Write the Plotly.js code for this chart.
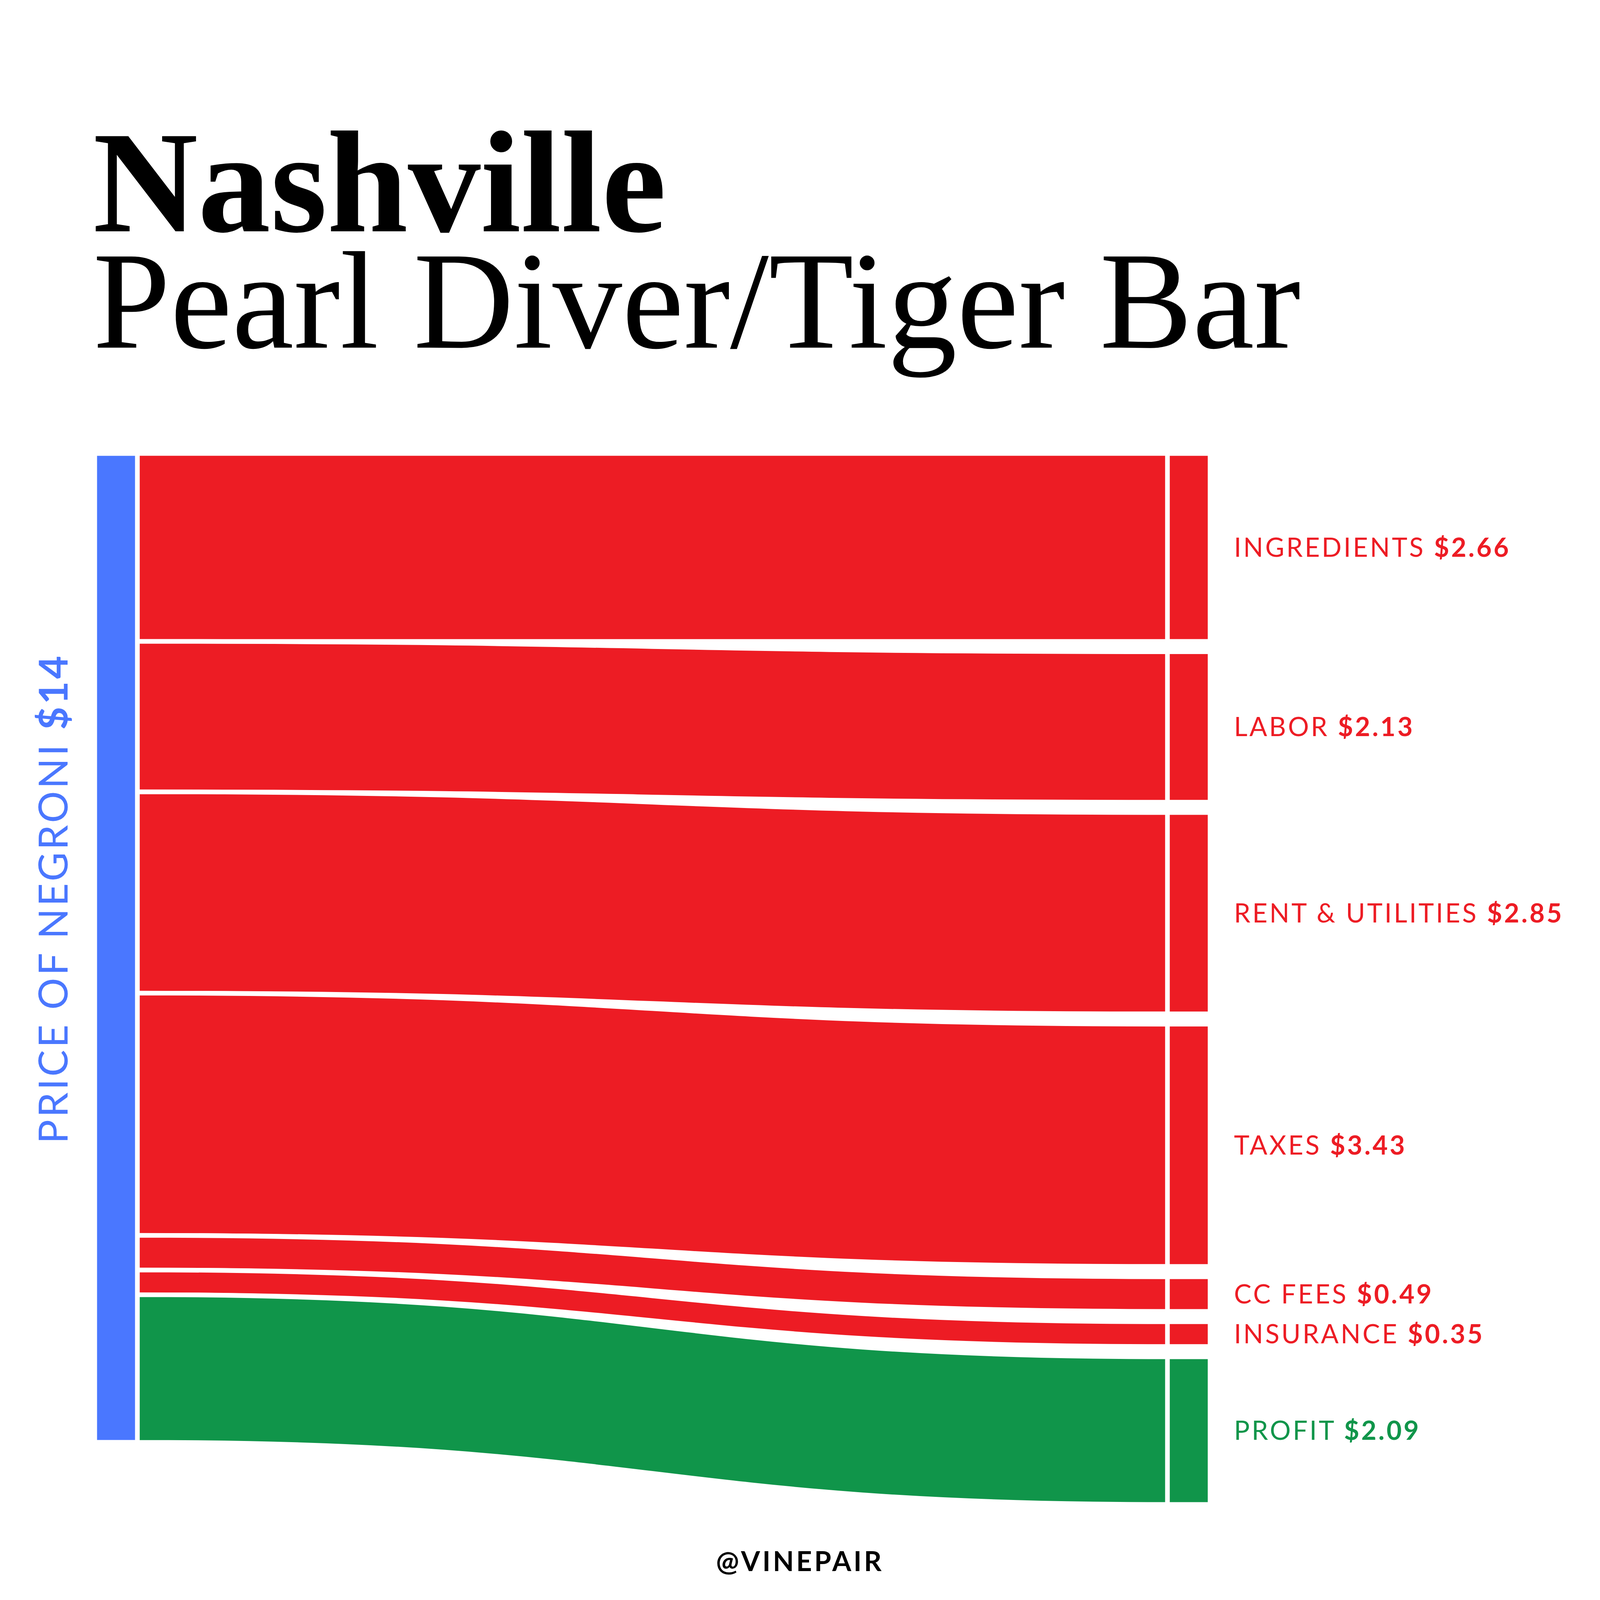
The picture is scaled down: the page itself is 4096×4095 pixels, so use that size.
<!DOCTYPE html>
<html>
<head>
<meta charset="utf-8">
<script src="https://cdn.plot.ly/plotly-3.0.1.min.js"></script>
<style>
html, body { margin: 0; padding: 0; background: #ffffff; }
#chart { width: 4096px; height: 4095px; }
</style>
</head>
<body>
<div id="chart"></div>
<script>
// ---------------- data ----------------
const sourceLabel = 'PRICE OF NEGRONI';
const price = 14;
const categories = ['INGREDIENTS', 'LABOR', 'RENT & UTILITIES', 'TAXES', 'CC FEES', 'INSURANCE', 'PROFIT'];
const values = [2.66, 2.13, 2.85, 3.43, 0.49, 0.35, 2.09];
const categoryColors = ['#ed1c24', '#ed1c24', '#ed1c24', '#ed1c24', '#ed1c24', '#ed1c24', '#10954a'];
const sourceColor = '#4a77ff';
const titleLine1 = 'Nashville';
const titleLine2 = 'Pearl Diver/Tiger Bar';
const footer = '@VINEPAIR';

// ---------------- geometry (reference px * scale) ----------------
const W = 4096, H = 4095, S = 0.982;
const nodeThickness = 111 * S;
const nodePad = 27 * S;
const strokeW = 12 * S;
const sankeyTop = 1182 * S;
const sankeyBottom = 3921 * S;
const leftCenterX = 302.5 * S;
const rightCenterX = 3099 * S;
const CLEAR = 'rgba(0,0,0,0)';

const Hs = sankeyBottom - sankeyTop;
const total = values.reduce((a, b) => a + b, 0);
const ky = (Hs - (values.length - 1) * nodePad) / total;
const n = values.length;

// node positions (normalized centres), derived from the values
const nodeX = [leftCenterX / W];
const nodeY = [(total * ky / 2) / Hs];
let cursor = 0;
values.forEach(v => {
  const h = v * ky;
  nodeX.push(rightCenterX / W);
  nodeY.push((cursor + h / 2) / Hs);
  cursor += h + nodePad;
});
// invisible sink column (keeps the category labels on the right of their bars)
nodeX.push(0.999);
nodeY.push((total * ky / 2) / Hs);

const lead = '   ';
const nodeLabels = [''].concat(categories.map((c, i) =>
  lead + '<span style="color:' + categoryColors[i] + ';letter-spacing:5px">' + c +
  ' <b>$' + values[i].toFixed(2) + '</b></span>'
)).concat(['']);
const nodeColors = [sourceColor].concat(categoryColors).concat([CLEAR]);

const linkSource = values.map(() => 0).concat(values.map((v, i) => i + 1));
const linkTarget = values.map((v, i) => i + 1).concat(values.map(() => n + 1));
const linkValue = values.concat(values);
const linkColor = categoryColors.concat(values.map(() => CLEAR));

const trace = {
  type: 'sankey',
  arrangement: 'fixed',
  orientation: 'h',
  domain: { x: [0, 1], y: [1 - sankeyBottom / H, 1 - sankeyTop / H] },
  hoverinfo: 'none',
  textfont: { family: 'Lato', size: 67, color: '#ed1c24', shadow: 'none' },
  node: {
    label: nodeLabels,
    color: nodeColors,
    x: nodeX,
    y: nodeY,
    thickness: nodeThickness,
    pad: nodePad,
    line: { color: '#ffffff', width: strokeW },
    hoverinfo: 'none'
  },
  link: {
    source: linkSource,
    target: linkTarget,
    value: linkValue,
    color: linkColor,
    line: { color: '#ffffff', width: strokeW },
    hoverinfo: 'none'
  }
};

const layout = {
  width: W,
  height: H,
  margin: { l: 0, r: 0, t: 0, b: 0 },
  paper_bgcolor: '#ffffff',
  showlegend: false,
  annotations: [
    {
      text: '<span style="font-size:372px"><b>' + titleLine1 + '</b></span><br>' +
            '<span style="font-size:356px">' + titleLine2 + '</span>',
      xref: 'paper', yref: 'paper',
      x: 236 / W, xanchor: 'left', y: 1 - 970 / H, yanchor: 'bottom',
      align: 'left', showarrow: false,
      font: { family: 'Liberation Serif', size: 229, color: '#000000' }
    },
    {
      text: '<span style="letter-spacing:6px">' + sourceLabel + ' <b>$' + price + '</b></span>',
      xref: 'paper', yref: 'paper',
      x: 133 / W, xanchor: 'center', y: 1 - 2300 / H, yanchor: 'middle',
      textangle: -90, showarrow: false,
      font: { family: 'Lato', size: 102, color: sourceColor }
    },
    {
      text: '<span style="letter-spacing:6px"><b>' + footer + '</b></span>',
      xref: 'paper', yref: 'paper',
      x: 0.5, xanchor: 'center', y: 1 - 3994 / H, yanchor: 'middle',
      showarrow: false,
      font: { family: 'Lato', size: 70, color: '#000000' }
    }
  ]
};

Plotly.newPlot('chart', [trace], layout, { staticPlot: true, displayModeBar: false });
</script>
</body>
</html>
